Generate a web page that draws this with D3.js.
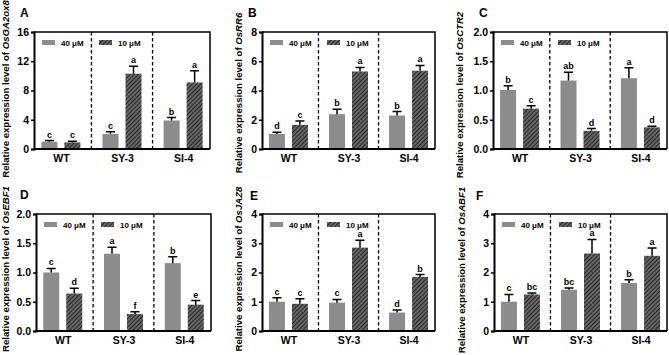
<!DOCTYPE html>
<html>
<head>
<meta charset="utf-8">
<script src="https://cdn.jsdelivr.net/npm/d3@7"></script>
<style>
  body { margin: 0; background: #fff; }
  svg { display: block; }
  svg text { font-family: "Liberation Sans", Arial, sans-serif; font-weight: bold; }
</style>
</head>
<body>
<div id="chart"></div>
<script>
// data
var groups = ["WT", "SY-3", "SI-4"];
var genes = ["OsGA2ox8", "OsRR6", "OsCTR2", "OsEBF1", "OsJAZ8", "OsABF1"];
var panelLetters = ["A", "B", "C", "D", "E", "F"];
var legendLabels = ["40 μM", "10 μM"];
var yMax = [16, 8, 2, 2, 4, 4];
var yTicks = [
  [0, 4, 8, 12, 16],
  [0, 2, 4, 6, 8],
  [0, 0.5, 1, 1.5, 2],
  [0, 0.5, 1, 1.5, 2],
  [0, 1, 2, 3, 4],
  [0, 1, 2, 3, 4]
];
var tickDecimals = [0, 0, 1, 1, 0, 0];

var mean40 = [
  [1.0, 2.05, 3.9],
  [1.03, 2.38, 2.29],
  [1.01, 1.17, 1.21],
  [1.0, 1.32, 1.16],
  [1.0, 0.97, 0.63],
  [1.0, 1.41, 1.64]
];
var err40 = [
  [0.15, 0.3, 0.4],
  [0.11, 0.34, 0.27],
  [0.07, 0.14, 0.18],
  [0.07, 0.11, 0.11],
  [0.14, 0.11, 0.09],
  [0.25, 0.06, 0.11]
];
var mean10 = [
  [0.9, 10.3, 9.1],
  [1.65, 5.3, 5.35],
  [0.69, 0.31, 0.37],
  [0.64, 0.29, 0.45],
  [0.93, 2.85, 1.85],
  [1.25, 2.65, 2.57]
];
var err10 = [
  [0.15, 1.0, 1.6],
  [0.27, 0.28, 0.36],
  [0.05, 0.04, 0.02],
  [0.09, 0.04, 0.07],
  [0.17, 0.25, 0.08],
  [0.05, 0.48, 0.27]
];
var sig40 = [
  ["c", "c", "b"],
  ["d", "b", "b"],
  ["b", "ab", "a"],
  ["c", "a", "b"],
  ["c", "c", "d"],
  ["c", "bc", "b"]
];
var sig10 = [
  ["c", "a", "a"],
  ["c", "a", "a"],
  ["c", "d", "d"],
  ["d", "f", "e"],
  ["c", "a", "b"],
  ["bc", "a", "a"]
];

// layout of each panel (pixels)
var W = 669, H = 355;
var panels = [
  {left: 34, right: 210, top: 32, bottom: 149, labelX: 8.5, labelY: 89, letterX: 20, letterY: 17},
  {left: 262, right: 435, top: 32, bottom: 149, labelX: 241.5, labelY: 93, letterX: 248, letterY: 17},
  {left: 493, right: 667, top: 32, bottom: 149, labelX: 462.5, labelY: 95, letterX: 479, letterY: 17},
  {left: 36, right: 211, top: 214, bottom: 331, labelX: 8.5, labelY: 269, letterX: 20, letterY: 199},
  {left: 262, right: 435, top: 214, bottom: 331, labelX: 241.5, labelY: 269, letterX: 250, letterY: 200},
  {left: 494, right: 667, top: 214, bottom: 331, labelX: 464.5, labelY: 270, letterX: 476, letterY: 200}
];

var grayFill = "#8c8c8c";
var barWidth = 16;
var barOffset = 11.5;

var svg = d3.select("#chart").append("svg")
  .attr("width", W)
  .attr("height", H);

svg.append("rect").attr("width", W).attr("height", H).attr("fill", "#fff");

// hatch pattern for the 10 uM bars
var defs = svg.append("defs");
var pat = defs.append("pattern")
  .attr("id", "hatch")
  .attr("patternUnits", "userSpaceOnUse")
  .attr("width", 3)
  .attr("height", 3)
  .attr("patternTransform", "rotate(45)");
pat.append("rect").attr("width", 3).attr("height", 3).attr("fill", "#666");
pat.append("line")
  .attr("x1", 0).attr("y1", 0).attr("x2", 0).attr("y2", 3)
  .attr("stroke", "#1a1a1a")
  .attr("stroke-width", 1.7);

panels.forEach(function(p, k) {
  var g = svg.append("g");

  var x = d3.scalePoint()
    .domain(groups)
    .range([p.left, p.right])
    .padding(0.44);
  var y = d3.scaleLinear()
    .domain([0, yMax[k]])
    .range([p.bottom, p.top]);

  // dashed separators between genotypes
  var seps = [0, 1].map(function(i) {
    return (x(groups[i]) + x(groups[i + 1])) / 2;
  });
  g.selectAll(".sep")
    .data(seps)
    .enter()
    .append("line")
    .attr("x1", function(d) { return d; })
    .attr("x2", function(d) { return d; })
    .attr("y1", p.top)
    .attr("y2", p.bottom)
    .attr("stroke", "#000")
    .attr("stroke-width", 1.3)
    .attr("stroke-dasharray", "3.5,2.5");

  // bars, both series
  var series = [
    {mean: mean40[k], err: err40[k], sig: sig40[k], dx: -barOffset, fill: grayFill},
    {mean: mean10[k], err: err10[k], sig: sig10[k], dx: barOffset, fill: "url(#hatch)"}
  ];

  series.forEach(function(s) {
    var rows = groups.map(function(grp, i) {
      return {grp: grp, m: s.mean[i], e: s.err[i], l: s.sig[i]};
    });

    g.selectAll(null)
      .data(rows)
      .enter()
      .append("rect")
      .attr("x", function(d) { return x(d.grp) + s.dx - barWidth / 2; })
      .attr("y", function(d) { return y(d.m); })
      .attr("width", barWidth)
      .attr("height", function(d) { return y(0) - y(d.m); })
      .attr("fill", s.fill);

    // error bars (upper whisker only)
    g.selectAll(null)
      .data(rows)
      .enter()
      .append("path")
      .attr("d", function(d) {
        var cx = x(d.grp) + s.dx;
        return "M" + cx + "," + y(d.m) + "V" + y(d.m + d.e) +
          "M" + (cx - 4.5) + "," + y(d.m + d.e) + "H" + (cx + 4.5);
      })
      .attr("fill", "none")
      .attr("stroke", "#000")
      .attr("stroke-width", 1.5);

    // significance letters
    g.selectAll(null)
      .data(rows)
      .enter()
      .append("text")
      .attr("x", function(d) { return x(d.grp) + s.dx; })
      .attr("y", function(d) { return y(d.m + d.e) - 3; })
      .attr("text-anchor", "middle")
      .attr("font-size", 9)
      .text(function(d) { return d.l; });
  });

  // frame
  g.append("path")
    .attr("d", "M" + p.left + "," + p.top + "H" + p.right + "V" + p.bottom)
    .attr("fill", "none")
    .attr("stroke", "#000")
    .attr("stroke-width", 1.5);

  // y axis
  var yAxis = d3.axisLeft(y)
    .tickValues(yTicks[k])
    .tickSize(3)
    .tickPadding(2)
    .tickFormat(d3.format("." + tickDecimals[k] + "f"));
  var ya = g.append("g")
    .attr("transform", "translate(" + p.left + ",0)")
    .call(yAxis);
  ya.select(".domain").attr("stroke-width", 2);
  ya.selectAll(".tick line").attr("stroke-width", 1.5);
  ya.selectAll("text")
    .attr("font-size", 10.5)
    .attr("fill", "#000");

  // x axis
  var xAxis = d3.axisBottom(x).tickSize(0).tickPadding(6);
  var xa = g.append("g")
    .attr("transform", "translate(0," + p.bottom + ")")
    .call(xAxis);
  xa.select(".domain")
    .attr("d", "M" + p.left + ",0H" + p.right)
    .attr("stroke-width", 2);
  xa.selectAll("text")
    .attr("font-size", 10.5)
    .attr("fill", "#000");

  // legend
  var leg = g.append("g").attr("transform", "translate(" + p.left + "," + p.top + ")");
  [grayFill, "url(#hatch)"].forEach(function(f, i) {
    var lx = 8 + i * 57;
    leg.append("rect")
      .attr("x", lx).attr("y", 8)
      .attr("width", 13).attr("height", 5)
      .attr("fill", f);
    leg.append("text")
      .attr("x", lx + 19).attr("y", 13.5)
      .attr("font-size", 8)
      .text(legendLabels[i]);
  });

  // y label
  var lab = g.append("text")
    .attr("transform", "translate(" + p.labelX + "," + p.labelY + ") rotate(-90)")
    .attr("text-anchor", "middle")
    .attr("font-size", 9.6);
  lab.append("tspan").text("Relative expression level of ");
  lab.append("tspan").attr("font-style", "italic").text(genes[k]);

  // panel letter
  g.append("text")
    .attr("x", p.letterX)
    .attr("y", p.letterY)
    .attr("font-size", 12)
    .text(panelLetters[k]);
});
</script>
</body>
</html>
